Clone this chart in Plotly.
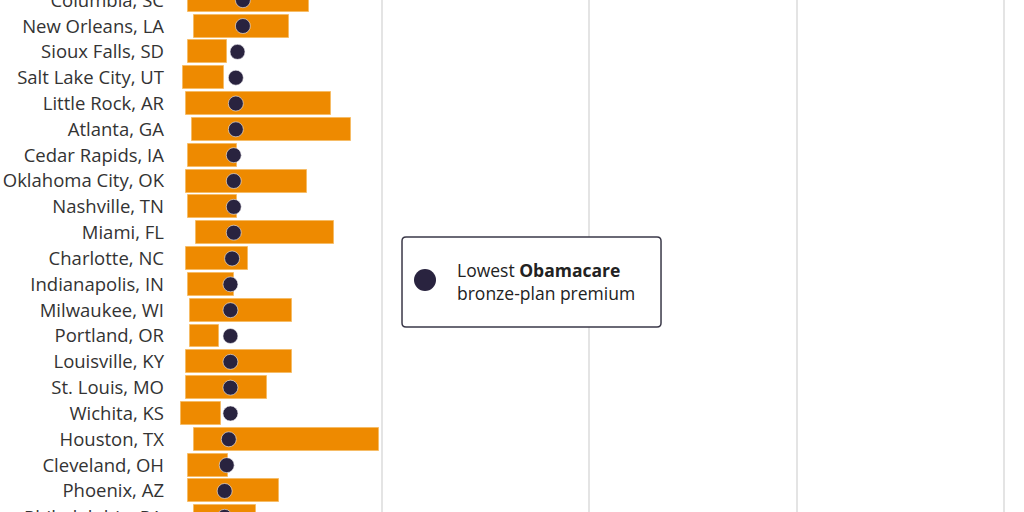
import plotly.graph_objects as go

# cities, top to bottom
cities = [
    "Columbia, SC", "New Orleans, LA", "Sioux Falls, SD", "Salt Lake City, UT",
    "Little Rock, AR", "Atlanta, GA", "Cedar Rapids, IA", "Oklahoma City, OK",
    "Nashville, TN", "Miami, FL", "Charlotte, NC", "Indianapolis, IN",
    "Milwaukee, WI", "Portland, OR", "Louisville, KY", "St. Louis, MO",
    "Wichita, KS", "Houston, TX", "Cleveland, OH", "Phoenix, AZ",
    "Philadelphia, PA",
]

# range of the orange bars (low / high), monthly dollars
range_low = [33, 47, 33, 20, 29, 42, 33, 29, 33, 51, 29, 33,
             37, 37, 29, 29, 15, 47, 33, 33, 47]
range_high = [324, 275, 126, 120, 377, 425, 151, 319, 151, 385, 178, 143,
              284, 107, 284, 222, 113, 492, 129, 252, 196]

# lowest Obamacare bronze-plan premium
bronze = [165, 165, 152, 148, 148, 148, 143, 143, 143, 143, 139, 135,
          135, 135, 135, 135, 135, 131, 126, 121, 121]

grid_vals = [0, 500, 1000, 1500, 2000]

ORANGE = "#EE8A00"
NAVY = "#29233F"
FONT = "Open Sans"
FSIZE = 18.5

bar_len = [h - l for l, h in zip(range_low, range_high)]

fig = go.Figure()

fig.add_trace(go.Bar(
    y=cities,
    x=bar_len,
    base=range_low,
    orientation="h",
    width=0.89,
    marker=dict(color=ORANGE, line=dict(color="#F6BC66", width=1)),
    hoverinfo="skip",
    showlegend=False,
))

fig.add_trace(go.Scatter(
    y=cities,
    x=bronze,
    mode="markers",
    marker=dict(color=NAVY, size=15, line=dict(color="#F4F2F6", width=0.6)),
    showlegend=False,
))

# row pitch in pixels and where the first row sits
pitch = 25.83
top = -0.2 / pitch
bottom = top + 512 / pitch

# x scale: 500 units per 207.5 px
x_lo, x_hi = -1, 2023
plot_w = (x_hi - x_lo) * 207.5 / 500

fig.update_layout(
    width=1024,
    height=512,
    margin=dict(l=174, r=1024 - 174 - plot_w, t=0, b=0),
    paper_bgcolor="white",
    plot_bgcolor="white",
    font=dict(family=FONT, size=FSIZE, color="#333333"),
    bargap=0,
)

fig.update_xaxes(
    range=[x_lo, x_hi],
    tickvals=grid_vals,
    showticklabels=False,
    showgrid=True,
    gridcolor="#E4E4E4",
    gridwidth=1.5,
    zeroline=False,
    showline=False,
    automargin=False,
    fixedrange=True,
)

fig.update_yaxes(
    type="category",
    categoryorder="array",
    categoryarray=cities,
    range=[bottom, top],
    showgrid=False,
    zeroline=False,
    showline=False,
    ticks="",
    ticklabelstandoff=9,
    tickfont=dict(family=FONT, size=FSIZE, color="#333333"),
    automargin=False,
    fixedrange=True,
)

# last city falls just below the visible area; show its label cut off
fig.add_annotation(
    xref="paper", yref="paper",
    x=0, y=-(len(cities) - 1 - bottom) * pitch / 512,
    xanchor="right", yanchor="middle", xshift=-9,
    text=cities[-1], showarrow=False,
    font=dict(family=FONT, size=FSIZE, color="#333333"),
)

# key box, placed in pixels
def px(x):
    return (x - 174) / plot_w

def py(y):
    return 1 - y / 512.0

bx0, bx1, by0, by1, rad = 402, 661, 237, 327, 4
path = (
    f"M {px(bx0 + rad)},{py(by0)} L {px(bx1 - rad)},{py(by0)} "
    f"Q {px(bx1)},{py(by0)} {px(bx1)},{py(by0 + rad)} "
    f"L {px(bx1)},{py(by1 - rad)} Q {px(bx1)},{py(by1)} {px(bx1 - rad)},{py(by1)} "
    f"L {px(bx0 + rad)},{py(by1)} Q {px(bx0)},{py(by1)} {px(bx0)},{py(by1 - rad)} "
    f"L {px(bx0)},{py(by0 + rad)} Q {px(bx0)},{py(by0)} {px(bx0 + rad)},{py(by0)} Z"
)
fig.add_shape(type="path", xref="paper", yref="paper", path=path,
              fillcolor="white", line=dict(color="#3A3848", width=1.5), layer="above")
fig.add_shape(type="circle", xref="paper", yref="paper",
              x0=px(414), x1=px(436), y0=py(291), y1=py(269),
              fillcolor=NAVY, line=dict(color=NAVY, width=0), layer="above")
fig.add_annotation(
    xref="paper", yref="paper", x=px(455), y=py(281),
    xanchor="left", yanchor="middle", align="left", showarrow=False,
    text="Lowest <b>Obamacare</b><br>bronze-plan premium",
    font=dict(family=FONT, size=17.5, color="#222222"),
)

# page has a default 8px body margin; drop it so the chart sits at the corner
fig.write_html("out.html", config={"displayModeBar": False},
               post_script="document.body.style.margin='0';")
